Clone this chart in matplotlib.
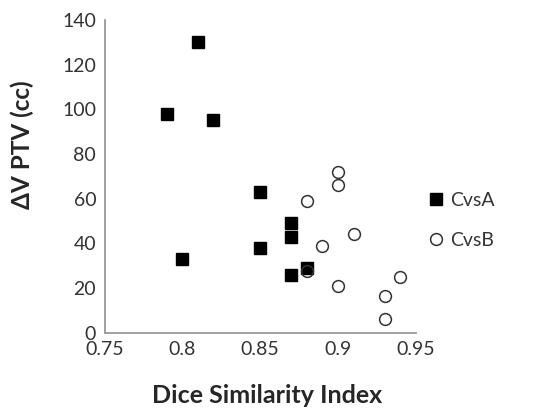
import matplotlib
matplotlib.use('Agg')
import matplotlib.pyplot as plt

plt.rcParams['font.family'] = ['Lato', 'DejaVu Sans']

# CvsA (filled squares)
dice_a = [0.81, 0.79, 0.82, 0.80, 0.85, 0.85, 0.87, 0.87, 0.87, 0.88]
dv_a = [130, 98, 95, 33, 63, 38, 49, 43, 26, 29]

# CvsB (open circles)
dice_b = [0.90, 0.90, 0.88, 0.91, 0.89, 0.90, 0.93, 0.93, 0.94, 0.88]
dv_b = [72, 66, 59, 44, 39, 21, 16.5, 6, 25, 27.5]

xticks = [0.75, 0.8, 0.85, 0.9, 0.95]
xtick_labels = ['0.75', '0.8', '0.85', '0.9', '0.95']
yticks = [0, 20, 40, 60, 80, 100, 120, 140]

fig = plt.figure(figsize=(5.5, 4.08), dpi=100)
ax = fig.add_axes([0.190, 0.1846, 0.566, 0.7664])

ax.plot(dice_a, dv_a, linestyle='none', marker='s', markersize=9,
        markerfacecolor='black', markeredgecolor='black', label='CvsA', zorder=3)
ax.plot(dice_b, dv_b, linestyle='none', marker='o', markersize=8.5,
        markerfacecolor='none', markeredgecolor='#333333', markeredgewidth=1.1,
        label='CvsB', zorder=4)

ax.set_xlim(0.75, 0.95)
ax.set_ylim(0, 140)
ax.set_xticks(xticks)
ax.set_xticklabels(xtick_labels)
ax.set_yticks(yticks)
ax.tick_params(length=0, labelsize=14, labelcolor='#333333', pad=6)

for s in ['top', 'right']:
    ax.spines[s].set_visible(False)
for s in ['left', 'bottom']:
    ax.spines[s].set_color('#999999')
    ax.spines[s].set_linewidth(1.3)

fig.text(0.485, 0.03, 'Dice Similarity Index', fontsize=18, fontweight='bold',
         color='#262626', ha='center', va='center')
fig.text(0.04, 0.645, 'ΔV PTV (cc)', rotation=90, fontsize=17.5, fontweight='bold',
         color='#262626', ha='center', va='center')

ax.legend(loc='center left', bbox_to_anchor=(0.74, 0.46), bbox_transform=fig.transFigure,
          frameon=False, fontsize=14, handletextpad=0.1, labelspacing=1.15,
          handlelength=1.2, labelcolor='#333333')

fig.savefig('out.png', dpi=100)
